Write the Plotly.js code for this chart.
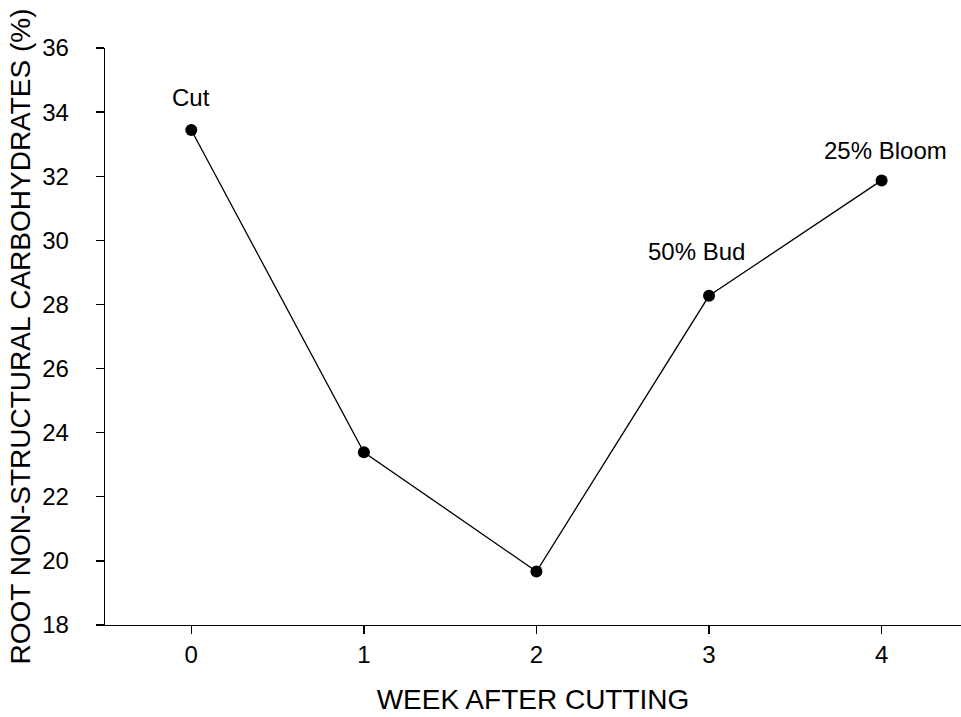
<!DOCTYPE html>
<html>
<head>
<meta charset="utf-8">
<script src="https://cdn.plot.ly/plotly-3.0.1.min.js"></script>
<style>html,body{margin:0;padding:0;background:#fff;}#chart{width:961px;height:717px;}</style>
</head>
<body>
<div id="chart"></div>
<script>
const weeks = [0, 1, 2, 3, 4];
const carbs = [33.44, 23.39, 19.67, 28.27, 31.87];
const stageLabels = ["Cut", "", "", "50% Bud", "25% Bloom"];
const labelShiftX = [0, 0, 0, -13, 4];
const labelShiftY = [33, 0, 0, 44, 30];
const yTicks = [18, 20, 22, 24, 26, 28, 30, 32, 34, 36];
const xTicks = [0, 1, 2, 3, 4];

const font = "Liberation Sans, Arial, sans-serif";

const trace = {
  x: weeks, y: carbs, type: "scatter", mode: "lines+markers",
  line: {color: "#000", width: 1.3},
  marker: {color: "#000", size: 12},
  hoverinfo: "skip", showlegend: false
};

const annotations = [];
stageLabels.forEach((t, i) => {
  if (!t) return;
  annotations.push({
    x: weeks[i], y: carbs[i], xref: "x", yref: "y", text: t, showarrow: false,
    xshift: labelShiftX[i], yshift: labelShiftY[i],
    font: {family: font, size: 24, color: "#000"}
  });
});

const layout = {
  width: 961, height: 717,
  margin: {l: 105, r: 0, t: 48, b: 92},
  paper_bgcolor: "#fff", plot_bgcolor: "#fff",
  font: {family: font, color: "#000"},
  xaxis: {
    range: [-0.5, 4.46], tickvals: xTicks, ticktext: xTicks.map(String),
    showgrid: false, zeroline: false, showline: true, linecolor: "#000", linewidth: 1.3,
    ticks: "outside", ticklen: 8, tickwidth: 1.3, tickcolor: "#000",
    tickfont: {family: font, size: 24, color: "#000"},
    title: {text: "WEEK AFTER CUTTING", font: {family: font, size: 28, color: "#000"}, standoff: 22}
  },
  yaxis: {
    range: [18, 36], tickvals: yTicks, ticktext: yTicks.map(String),
    showgrid: false, zeroline: false, showline: true, linecolor: "#000", linewidth: 1.3,
    ticks: "outside", ticklen: 8, tickwidth: 1.3, tickcolor: "#000",
    ticklabelstandoff: 22,
    tickfont: {family: font, size: 24, color: "#000"},
    title: {text: "ROOT NON-STRUCTURAL CARBOHYDRATES (%)", font: {family: font, size: 28, color: "#000"}, standoff: 3}
  },
  annotations: annotations
};

Plotly.newPlot("chart", [trace], layout, {displayModeBar: false, staticPlot: true});
</script>
</body>
</html>
